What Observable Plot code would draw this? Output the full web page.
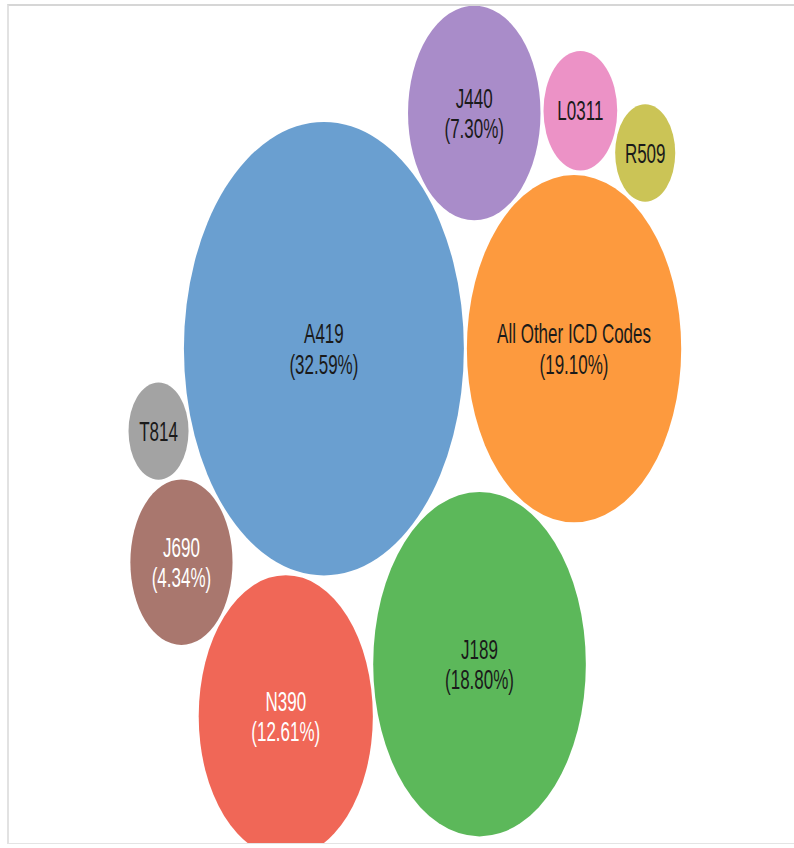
<!DOCTYPE html>
<html>
<head>
<meta charset="utf-8">
<script src="https://cdn.jsdelivr.net/npm/d3@7"></script>
<script src="https://cdn.jsdelivr.net/npm/@observablehq/plot@0.6"></script>
<style>
  html, body { margin: 0; padding: 0; background: #fff; }
  #frame {
    position: absolute; left: 7px; top: 4px; width: 800px; height: 837px;
    border-top: 2px solid #d6d6d6; border-left: 2px solid #e2e2e2; border-bottom: 1px solid #e4e4e4;
    overflow: hidden;
  }
  #chart { position: absolute; left: -9px; top: -6px; }
</style>
</head>
<body>
<div id="frame"><div id="chart"></div></div>
<script>
// ICD codes and their share of visits (percent), largest first
const codes  = ["A419", "All Other ICD Codes", "J189", "N390", "J440", "J690", "L0311", "T814", "R509"];
const shares = [32.59, 19.10, 18.80, 12.61, 7.30, 4.34, 2.26, 1.50, 1.50];

// bubble arrangement: each bubble rests against two earlier ones,
// sitting clockwise of the line from the first to the second
// (the second bubble simply sits to the right of the first)
const restsOn = [
  null,
  ["A419"],
  ["A419", "All Other ICD Codes"],
  ["A419", "J189"],
  ["All Other ICD Codes", "A419"],
  ["A419", "N390"],
  ["All Other ICD Codes", "J440"],
  ["A419", "J690"],
  ["All Other ICD Codes", "L0311"]
];

// one fill per bubble, in the same order as the codes
const palette = ["#6a9fd0", "#fd9a3e", "#5cb85a", "#f06757", "#a98cc9", "#a9776e", "#ec92c6", "#a3a3a3", "#cbc456"];
// codes whose labels are drawn in white
const lightLabels = ["N390", "J690"];
// bubbles below this share only show the code
const percentThreshold = 3;

const W = 794, H = 848;
const stretch = 1.62;          // vertical stretch applied to the whole drawing
const H0 = H / stretch;        // drawing height before stretching
const k = 24.52;               // pixels of radius per sqrt(percent)
const gap = 1.5;               // half the spacing between bubbles
const padLeft = 128, padTop = 3;

const nodes = codes.map((code, i) => ({
  code, share: shares[i], color: palette[i],
  r: Math.sqrt(shares[i]) * k + gap
}));
const byCode = new Map(nodes.map(d => [d.code, d]));

// put circle c against a and b, clockwise of a→b
function place(a, b, c) {
  const dx = b.x - a.x, dy = b.y - a.y, d = Math.hypot(dx, dy);
  const ra = a.r + c.r, rb = b.r + c.r;
  const t = (d * d + ra * ra - rb * rb) / (2 * d);
  const h = Math.sqrt(Math.max(0, ra * ra - t * t));
  const ux = dx / d, uy = dy / d;
  c.x = a.x + t * ux - h * uy;
  c.y = a.y + t * uy + h * ux;
}
nodes.forEach((c, i) => {
  const rest = restsOn[i];
  if (!rest) { c.x = 0; c.y = 0; }
  else if (rest.length === 1) { const a = byCode.get(rest[0]); c.x = a.x + a.r + c.r; c.y = a.y; }
  else place(byCode.get(rest[0]), byCode.get(rest[1]), c);
});

const xmin = d3.min(nodes, d => d.x - d.r + gap);
const ymin = d3.min(nodes, d => d.y - d.r + gap);

const fmt = d3.format(".2f");
const label = d => d.share >= percentThreshold ? `${d.code}\n(${fmt(d.share)}%)` : d.code;

const svg = Plot.plot({
  width: W,
  height: H0,
  margin: 0,
  x: { domain: [xmin - padLeft, xmin - padLeft + W], range: [0, W], axis: null },
  y: { domain: [ymin - padTop, ymin - padTop + H0], range: [0, H0], axis: null },
  r: { type: "sqrt", domain: [0, 1], range: [0, k] },
  marks: [
    Plot.dot(nodes, { x: "x", y: "y", r: "share", fill: "color" }),
    Plot.text(nodes, {
      x: "x", y: "y", text: label,
      fill: d => lightLabels.includes(d.code) ? "#ffffff" : "#1a1a1a",
      fontSize: 17, lineHeight: 1.1,
      fontFamily: "'Liberation Sans', Arial, sans-serif"
    })
  ]
});

// stretch the drawing vertically to its display size
svg.setAttribute("preserveAspectRatio", "none");
svg.setAttribute("width", W);
svg.setAttribute("height", H);
svg.style.width = W + "px";
svg.style.height = H + "px";
svg.style.maxWidth = "none";
svg.style.background = "transparent";
document.getElementById("chart").appendChild(svg);
</script>
</body>
</html>
